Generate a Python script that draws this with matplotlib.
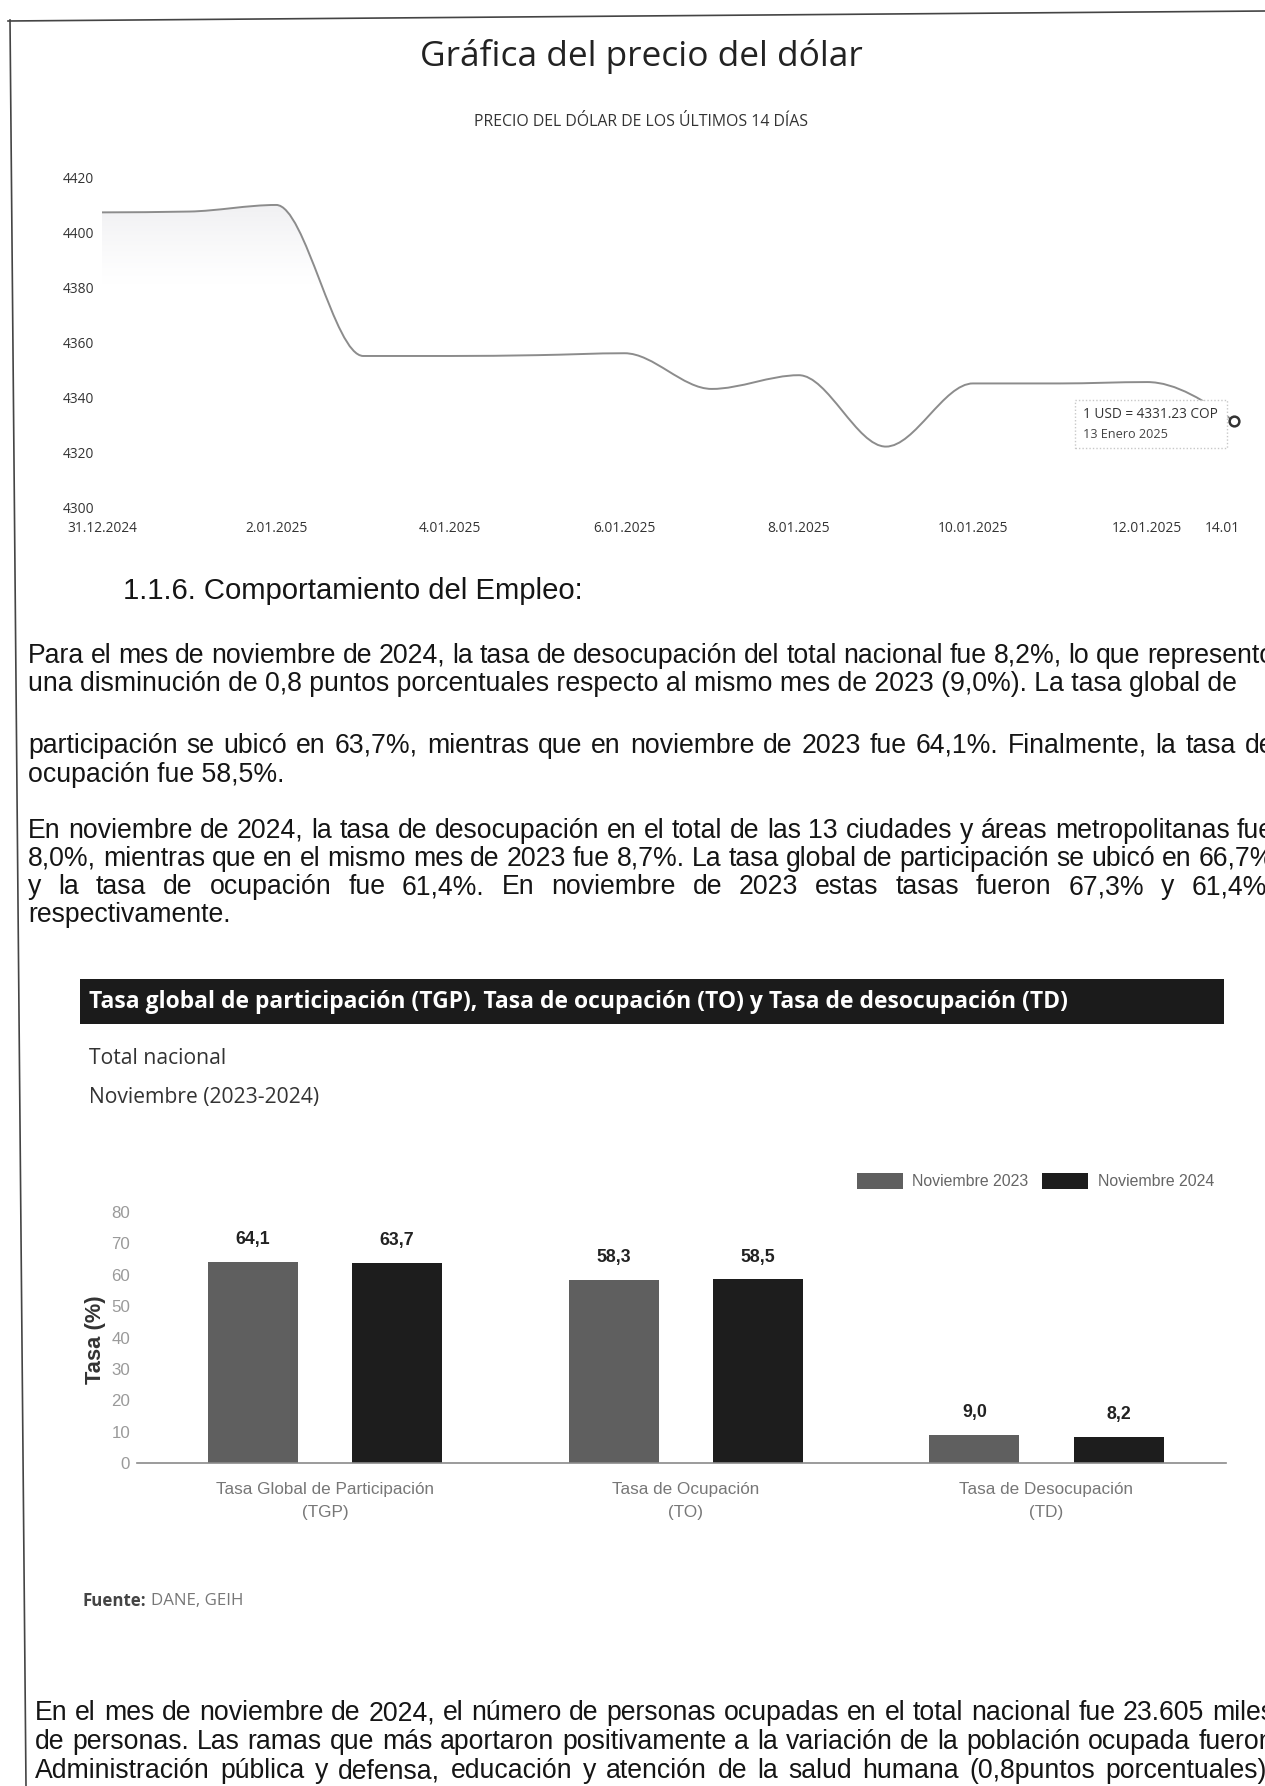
import numpy as np
import matplotlib
matplotlib.use('Agg')
import matplotlib.pyplot as plt
from matplotlib import font_manager as fm
from matplotlib.path import Path
from matplotlib.patches import PathPatch, Rectangle
from matplotlib.lines import Line2D

W, H, DPI = 1265, 1786, 100

# ---------------- data: dollar price (last 14 days) ----------------
price_dates = ['31.12.2024', '1.01.2025', '2.01.2025', '3.01.2025', '4.01.2025',
               '5.01.2025', '6.01.2025', '7.01.2025', '8.01.2025', '9.01.2025',
               '10.01.2025', '11.01.2025', '12.01.2025', '13.01.2025']
prices = [4407.3, 4407.6, 4410.0, 4355.0, 4355.0, 4355.3, 4356.0,
          4343.0, 4348.0, 4322.0, 4345.0, 4345.0, 4345.5, 4331.23]
price_ticks = [4300, 4320, 4340, 4360, 4380, 4400, 4420]
date_tick_labels = ['31.12.2024', '2.01.2025', '4.01.2025', '6.01.2025',
                    '8.01.2025', '10.01.2025', '12.01.2025']
tooltip_date = '13 Enero 2025'

# ---------------- data: labour market rates ----------------
categories = ['Tasa Global de Participación\n(TGP)', 'Tasa de Ocupación\n(TO)',
              'Tasa de Desocupación\n(TD)']
nov_2023 = [64.1, 58.3, 9.0]
nov_2024 = [63.7, 58.5, 8.2]
series_names = ['Noviembre 2023', 'Noviembre 2024']
rate_ticks = [0, 10, 20, 30, 40, 50, 60, 70, 80]

# ---------------- helpers ----------------
fig = plt.figure(figsize=(W / DPI, H / DPI), dpi=DPI)
fig.patch.set_facecolor('white')
renderer = fig.canvas.get_renderer()


def has_font(name):
    try:
        fm.findfont(fm.FontProperties(family=name), fallback_to_default=False)
        return True
    except Exception:
        return False


SANS = 'Liberation Sans' if has_font('Liberation Sans') else 'DejaVu Sans'
OPEN = 'Open Sans' if has_font('Open Sans') else SANS
NARROW = next((f for f in ['Liberation Sans Narrow', 'Arial Narrow'] if has_font(f)), SANS)


def tw(s, family, weight='normal', size=10.0):
    t = fig.text(0, 0, s, family=family, fontweight=weight, fontsize=size)
    w = t.get_window_extent(renderer).width
    t.remove()
    return w


def fit(s, family, px, weight='normal'):
    return 10.0 * px / tw(s, family, weight, 10.0)


def fx(x):
    return x / W


def fy(y):
    return 1 - y / H


def put(x, y, s, **kw):
    return fig.text(fx(x), fy(y), s, **kw)


# ---------------- page border ----------------
fig.add_artist(Line2D([fx(8), fx(1265)], [fy(21), fy(11)], color='#444444', lw=1.2))
fig.add_artist(Line2D([fx(10), fx(26)], [fy(20), fy(1786)], color='#444444', lw=1.2))

# ---------------- chart 1: dollar price ----------------
title1 = 'Gráfica del precio del dólar'
put(641, 57, title1, ha='center', va='center', family=OPEN,
    fontsize=fit(title1, OPEN, 442), color='#222222')
sub1 = 'PRECIO DEL DÓLAR DE LOS ÚLTIMOS 14 DÍAS'
put(641, 122, sub1, ha='center', va='center', family=OPEN,
    fontsize=fit(sub1, OPEN, 335), color='#333333')

X0_PX, DAY_PX = 102.0, 87.1
A1L, A1R, A1T, A1B = 95, 1245, 177.5, 507
ax1 = fig.add_axes([fx(A1L), fy(A1B), (A1R - A1L) / W, (A1B - A1T) / H])
ax1.set_facecolor('none')

xd = np.arange(len(prices), dtype=float)
yd = np.array(prices, dtype=float)
hh = np.diff(xd)
ss = np.diff(yd) / hh
mm = np.zeros_like(yd)
for i in range(1, len(yd) - 1):
    if ss[i - 1] * ss[i] > 0:
        p = (ss[i - 1] * hh[i] + ss[i] * hh[i - 1]) / (hh[i - 1] + hh[i])
        mm[i] = np.sign(ss[i - 1]) * 2 * min(abs(ss[i - 1]), abs(ss[i]), 0.5 * abs(p))
mm[0] = (3 * ss[0] - mm[1]) / 2
mm[-1] = (3 * ss[-1] - mm[-2]) / 2
verts = [(xd[0], yd[0])]
codes = [Path.MOVETO]
for i in range(len(yd) - 1):
    verts += [(xd[i] + hh[i] / 3, yd[i] + mm[i] * hh[i] / 3),
              (xd[i + 1] - hh[i] / 3, yd[i + 1] - mm[i + 1] * hh[i] / 3),
              (xd[i + 1], yd[i + 1])]
    codes += [Path.CURVE4] * 3
line_path = Path(verts, codes)
fill_path = Path(verts + [(xd[-1], price_ticks[0]), (xd[0], price_ticks[0]), (xd[0], yd[0])],
                 codes + [Path.LINETO, Path.LINETO, Path.CLOSEPOLY])

fill_patch = PathPatch(fill_path, facecolor='none', edgecolor='none')
ax1.add_patch(fill_patch)
gy = np.linspace(price_ticks[0], price_ticks[-1], 240)
alpha = np.clip((gy - 4380) / (4410 - 4380), 0, 1) ** 1.3 * 0.32
grad = np.zeros((len(gy), 2, 4))
grad[..., 0] = 0.82
grad[..., 1] = 0.82
grad[..., 2] = 0.85
grad[..., 3] = alpha[:, None]
im = ax1.imshow(grad, extent=[xd[0], xd[-1], price_ticks[0], price_ticks[-1]],
                origin='lower', aspect='auto', zorder=1, interpolation='bilinear')
im.set_clip_path(fill_patch)
ax1.add_patch(PathPatch(line_path, facecolor='none', edgecolor='#8c8c8c', lw=1.4, zorder=2))

ax1.set_xlim((A1L - X0_PX) / DAY_PX, (A1R - X0_PX) / DAY_PX)
ax1.set_ylim(price_ticks[0], price_ticks[-1])
for sp in ax1.spines.values():
    sp.set_visible(False)

tick_fs = fit('31.12.2024', OPEN, 70)
ax1.set_xticks([price_dates.index(d) for d in date_tick_labels])
ax1.set_xticklabels(date_tick_labels, family=OPEN, fontsize=tick_fs, color='#333333')
ax1.set_yticks(price_ticks)
ax1.set_yticklabels([str(v) for v in price_ticks], family=OPEN, fontsize=tick_fs, color='#333333')
ax1.tick_params(axis='x', length=0, pad=10)
ax1.tick_params(axis='y', length=0, pad=(A1L - 63) * 72 / DPI)
for lab in ax1.get_yticklabels():
    lab.set_ha('left')
put(1222, 528, '14.01', ha='center', va='center', family=OPEN, fontsize=tick_fs, color='#333333')

# tooltip
ax1.add_artist(Rectangle((fx(1075), fy(448)), (1227 - 1075) / W, (448 - 400) / H,
                         transform=fig.transFigure, facecolor='white', edgecolor='#c8c8c8',
                         lw=1.0, ls=(0, (1, 1.5)), zorder=5, clip_on=False))
tt1 = '1 USD = {:.2f} COP'.format(prices[-1])
ax1.text(fx(1083), fy(415), tt1, transform=fig.transFigure, family=OPEN,
         fontsize=fit(tt1, OPEN, 134), color='#333333', va='center', ha='left', zorder=7)
ax1.text(fx(1083), fy(434), tooltip_date, transform=fig.transFigure, family=OPEN,
         fontsize=fit(tooltip_date, OPEN, 84), color='#444444', va='center', ha='left', zorder=7)
ax1.plot([xd[-1]], [yd[-1]], 'o', ms=7, mfc='white', mec='#333333', mew=1.8,
         zorder=8, clip_on=False)

# ---------------- text section ----------------
INK = '#151515'
BODY = fit('una disminución de 0,8 puntos porcentuales respecto al mismo mes de 2023 (9,0%). La tasa global de',
           SANS, 1210)
R_MARGIN = 1274


def text_line(x0, y, s, justify):
    if not justify:
        put(x0, y, s, family=SANS, fontsize=BODY, color=INK, va='baseline', ha='left')
        return
    words = s.split()
    widths = [tw(w, SANS, 'normal', BODY) for w in words]
    gap = (R_MARGIN - x0 - sum(widths)) / (len(words) - 1)
    x = x0
    for w, wd in zip(words, widths):
        put(x, y, w, family=SANS, fontsize=BODY, color=INK, va='baseline', ha='left')
        x += wd + gap


head = '1.1.6. Comportamiento del Empleo:'
put(123, 599, head, family=SANS, fontsize=fit(head, SANS, 460),
    color=INK, va='baseline', ha='left')

text_lines = [
    (28, 663, 'Para el mes de noviembre de 2024, la tasa de desocupación del total nacional fue 8,2%, lo que representó', True),
    (28, 691, 'una disminución de 0,8 puntos porcentuales respecto al mismo mes de 2023 (9,0%). La tasa global de', False),
    (28, 753, 'participación se ubicó en 63,7%, mientras que en noviembre de 2023 fue 64,1%. Finalmente, la tasa de', True),
    (28, 782, 'ocupación fue 58,5%.', False),
    (28, 838, 'En noviembre de 2024, la tasa de desocupación en el total de las 13 ciudades y áreas metropolitanas fue', True),
    (28, 866, '8,0%, mientras que en el mismo mes de 2023 fue 8,7%. La tasa global de participación se ubicó en 66,7%', True),
    (28, 894, 'y la tasa de ocupación fue 61,4%. En noviembre de 2023 estas tasas fueron 67,3% y 61,4%,', True),
    (28, 922, 'respectivamente.', False),
    (35, 1720, 'En el mes de noviembre de 2024, el número de personas ocupadas en el total nacional fue 23.605 miles', True),
    (35, 1749, 'de personas. Las ramas que más aportaron positivamente a la variación de la población ocupada fueron', True),
    (35, 1778, 'Administración pública y defensa, educación y atención de la salud humana (0,8puntos porcentuales),', True),
]
for x0, y, s, j in text_lines:
    text_line(x0, y, s, j)

# ---------------- chart 2: labour rates ----------------
fig.add_artist(Rectangle((fx(80), fy(1024)), (1224 - 80) / W, (1024 - 979) / H,
                         transform=fig.transFigure, facecolor='#1b1b1b', edgecolor='none'))
banner = 'Tasa global de participación (TGP), Tasa de ocupación (TO) y Tasa de desocupación (TD)'
put(89, 1002, banner, family=OPEN, fontweight='bold', fontsize=fit(banner, OPEN, 978, 'bold'),
    color='white', va='center', ha='left')
sub_fs = fit('Total nacional', OPEN, 137)
put(89, 1059, 'Total nacional', family=OPEN, fontsize=sub_fs, color='#333333', va='center')
put(89, 1098, 'Noviembre (2023-2024)', family=OPEN, fontsize=sub_fs, color='#333333', va='center')

A2L, A2R, A2T, A2B = 137, 1226, 1212, 1463
ax2 = fig.add_axes([fx(A2L), fy(A2B), (A2R - A2L) / W, (A2B - A2T) / H])
ax2.set_facecolor('none')
xc = np.arange(len(categories))
b1 = ax2.bar(xc - 0.2, nov_2023, 0.25, color='#5f5f5f', zorder=2)
b2 = ax2.bar(xc + 0.2, nov_2024, 0.25, color='#1d1d1d', zorder=2)
ax2.set_xlim((A2L - 325) / 360.75, (A2R - 325) / 360.75)
ax2.set_ylim(rate_ticks[0], rate_ticks[-1])
for k in ['top', 'right', 'left']:
    ax2.spines[k].set_visible(False)
ax2.spines['bottom'].set_color('#8a8a8a')
ax2.spines['bottom'].set_linewidth(1.2)

ytf = fit('80', NARROW, 18) * 1.05
ax2.set_yticks(rate_ticks)
ax2.set_yticklabels([str(v) for v in rate_ticks], family=NARROW, fontsize=ytf, color='#9a9a9a')
ax2.tick_params(axis='y', length=0, pad=5)
cat_fs = fit('Tasa Global de Participación', NARROW, 208) * 1.05
ax2.set_xticks(xc)
ax2.set_xticklabels(categories, family=NARROW, fontsize=cat_fs, color='#777777', linespacing=1.6)
ax2.tick_params(axis='x', length=0, pad=14)

ylab = 'Tasa (%)'
ax2.set_ylabel(ylab, family=NARROW, fontweight='bold', fontsize=fit(ylab, NARROW, 88, 'bold'),
               color='#333333')
ax2.yaxis.set_label_coords((106 - A2L) / (A2R - A2L), (A2B - 1340) / (A2B - A2T))

val_fs = fit('64,1', NARROW, 32, 'bold') * 1.08
for cont, vals in ((b1, nov_2023), (b2, nov_2024)):
    ax2.bar_label(cont, labels=['{:.1f}'.format(v).replace('.', ',') for v in vals],
                  padding=10, family=NARROW, fontweight='bold', fontsize=val_fs, color='#222222')

leg_fs = fit('Noviembre 2023', NARROW, 117)
fpx = leg_fs * DPI / 72
leg = ax2.legend(handles=[b1, b2], labels=series_names, ncol=2, frameon=False,
                 prop={'family': NARROW, 'size': leg_fs},
                 loc='center right', bbox_to_anchor=(fx(1214), fy(1181)),
                 bbox_transform=fig.transFigure, borderpad=0, borderaxespad=0,
                 handlelength=46 / fpx, handleheight=19 / fpx,
                 handletextpad=10 / fpx, columnspacing=13 / fpx)
for t in leg.get_texts():
    t.set_color('#666666')

# source
src_fs = fit('Fuente: DANE, GEIH', OPEN, 156)
put(83, 1601, 'Fuente:', family=OPEN, fontweight='bold', fontsize=src_fs,
    color='#444444', va='center', ha='left')
wsrc = tw('Fuente: ', OPEN, 'bold', src_fs)
put(83 + wsrc, 1601, 'DANE, GEIH', family=OPEN, fontsize=src_fs, color='#777777',
    va='center', ha='left')

fig.savefig('out.png', dpi=DPI, facecolor='white')
